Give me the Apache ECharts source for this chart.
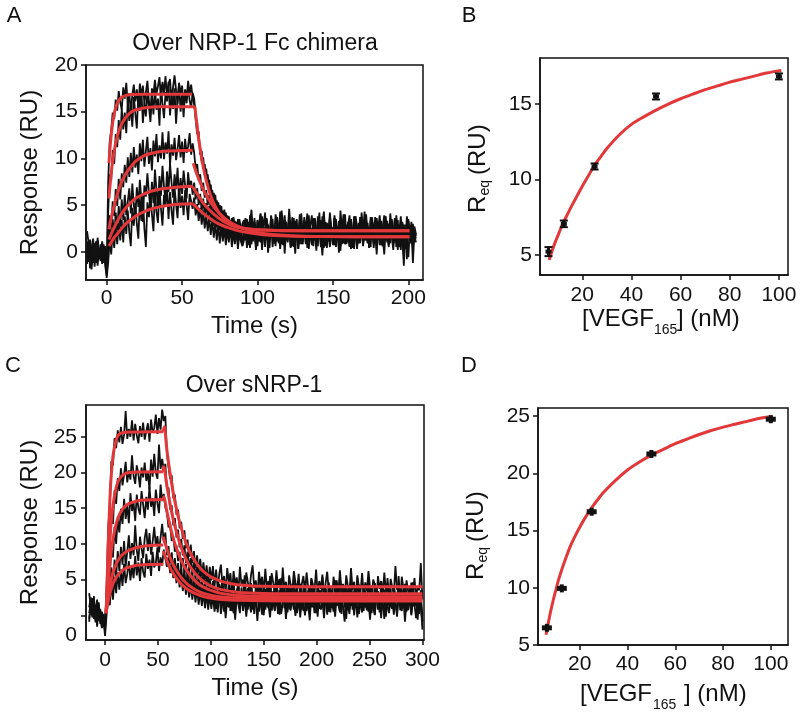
<!DOCTYPE html>
<html><head><meta charset="utf-8">
<script src="https://cdn.jsdelivr.net/npm/echarts@6/dist/echarts.min.js"></script>
<style>html,body{margin:0;padding:0;background:#fff}#c{width:800px;height:714px}</style>
</head><body><div id="c"></div>
<script>
const FONT = "'Liberation Sans', Arial, Helvetica, sans-serif";
const BLACK = '#111111', RED = '#e2383a';

// ---------- Panel A : sensorgrams over NRP-1 Fc chimera (t = -13..205 s, 1 s step) ----------
const tStartA = -13, tStepA = 1;
const blackA1 = [2.2,1.0,-0.5,0.6,-1.2,0.3,1.1,0.4,-0.8,0.2,-0.4,0.6,-1.5,-2.6,
7.5,11.8,13.0,14.9,14.2,16.3,15.1,17.2,16.0,15.2,17.6,16.4,18.1,15.8,17.0,14.9,16.8,17.9,16.1,17.4,15.5,18.0,16.6,17.8,15.9,17.1,18.3,16.2,14.6,17.5,16.8,18.4,16.9,17.7,18.7,16.4,18.2,17.0,18.8,16.6,17.9,18.5,16.2,17.6,18.9,17.3,15.8,18.1,16.9,17.8,15.6,17.4,16.3,18.3,16.8,17.9,16.5,
15.8,14.2,12.6,12.9,10.4,10.8,8.9,9.4,7.6,8.3,6.5,7.2,5.6,6.3,4.6,5.5,4.1,5.0,3.5,4.4,3.1,4.2,2.6,3.8,2.4,3.6,2.0,3.3,1.8,3.5,2.2,1.4,3.0,
3.4,1.2,2.8,0.9,3.9,2.0,1.1,3.2,2.5,0.6,2.9,4.1,1.8,2.6,0.8,3.5,2.2,1.4,3.8,2.7,0.9,2.3,3.6,1.5,4.3,2.0,0.7,3.1,2.4,1.2,3.7,1.9,2.8,0.5,3.3,2.6,1.0,4.0,2.1,1.6,3.4,0.8,2.7,3.9,1.3,2.5,0.6,3.6,2.2,1.8,4.2,1.1,2.9,0.4,3.2,2.4,1.5,3.8,1.9,2.6,0.7,3.5,2.0,1.2,4.4,2.3,0.9,3.0,1.7,2.8,3.9,1.0,2.5,0.3,3.4,2.1,1.4,3.7,2.6,0.8,2.9,4.0,1.6,2.3,0.5,3.3,2.7,1.1,3.6,2.0,1.3,3.1,0.6,2.8,3.8,1.5,2.2,0.9,3.5,2.4,1.0,3.9,1.8,2.6,0.2,3.0,1.4,2.5,-0.8,3.2,1.6,2.9,0.4,2.2,1.7];
const blackA2 = [0.4,-1.1,1.3,-0.2,0.9,-1.6,0.5,1.2,-0.7,0.8,-1.3,0.2,-0.9,-2.1,
4.2,8.3,7.6,10.9,9.4,12.6,11.2,14.1,12.0,15.3,13.1,14.9,12.7,16.2,14.0,15.7,13.4,16.6,14.8,13.2,16.9,15.1,17.4,13.8,16.0,14.5,17.2,15.6,13.9,16.8,14.7,17.6,15.2,16.4,13.5,17.9,15.8,14.3,17.1,16.1,18.2,14.6,16.7,15.3,17.5,13.7,16.3,18.0,15.0,16.9,14.4,17.3,15.9,17.8,16.2,15.4,17.0,
16.4,14.6,13.8,11.9,11.2,9.6,10.1,8.2,8.9,7.1,7.7,6.0,6.6,5.2,6.1,4.4,5.3,3.8,4.9,3.3,4.5,2.8,3.9,2.5,3.4,1.9,3.7,2.2,3.0,1.5,3.3,2.6,1.2,
1.8,3.6,2.4,0.7,3.1,4.5,1.9,2.8,0.6,3.4,2.1,1.0,3.8,2.5,4.2,1.3,2.9,0.4,3.5,2.2,1.6,4.0,2.7,1.1,3.3,0.8,2.6,3.9,1.5,2.0,4.6,2.3,0.9,3.6,1.8,2.8,0.3,3.2,2.4,1.2,3.7,2.0,4.1,1.4,2.6,0.7,3.4,2.9,1.0,3.8,2.2,0.5,3.0,4.3,1.6,2.5,1.1,3.6,2.0,0.8,3.9,2.7,1.3,3.3,0.6,2.4,4.0,1.7,2.9,1.0,3.5,2.1,0.4,3.8,2.6,1.5,3.1,0.9,4.2,2.3,1.2,3.4,2.0,0.7,3.7,2.8,1.4,3.0,0.2,2.5,3.9,1.6,2.7,1.1,3.3,2.0,0.8,4.1,2.4,1.3,3.6,0.5,2.9,2.2,3.8,1.0,-0.4,2.6,1.8,3.3,0.9,2.7,-1.2,2.1,1.4];
const blackA3 = [-0.6,0.9,-1.8,0.3,1.4,-0.5,-1.2,0.7,0.1,-1.0,1.1,-0.3,0.6,-0.9,
0.8,3.9,2.6,5.4,3.8,6.7,4.9,7.8,5.6,8.4,6.9,9.3,7.4,10.1,8.0,10.6,8.5,11.2,9.0,10.4,8.3,11.6,9.7,12.0,9.1,10.8,12.3,9.4,11.1,8.7,11.9,10.2,12.6,9.6,11.4,10.0,12.8,9.9,11.7,10.5,12.9,9.3,11.5,10.3,12.2,9.8,11.0,12.5,10.1,11.8,9.5,12.1,10.6,11.3,12.7,10.4,11.6,
10.6,8.9,9.4,7.6,8.3,6.5,7.4,5.8,6.6,5.0,6.1,4.4,5.5,4.0,5.1,3.5,4.6,3.1,4.3,2.7,3.8,2.3,3.6,2.0,3.3,1.6,2.9,1.3,2.7,0.9,2.5,1.4,0.7,
0.9,2.8,1.3,3.2,0.4,2.1,1.7,3.6,0.8,2.4,1.1,3.0,0.2,2.6,1.5,3.4,0.7,1.9,2.9,0.5,2.3,1.2,3.7,0.9,2.0,1.6,3.1,-0.2,2.5,1.0,3.3,1.8,0.6,2.7,1.4,3.5,0.3,2.2,1.7,0.8,2.9,1.3,3.8,0.6,2.0,1.1,3.2,1.9,0.1,2.6,1.5,3.4,0.9,2.3,1.8,0.4,3.0,1.2,2.5,0.7,3.6,1.6,2.1,-0.1,2.8,1.4,3.3,0.8,1.9,2.7,0.5,2.4,1.1,3.5,1.7,0.3,2.9,1.3,2.2,0.6,3.1,1.8,0.9,2.6,1.5,3.7,0.4,2.0,1.2,2.8,0.7,3.3,1.6,-0.3,2.5,1.0,3.0,1.4,2.3,0.8,3.4,1.9,0.2,2.7,1.1,3.2,0.6,2.1,1.5,-0.6,2.4,0.9,3.0,1.2,2.0];
const blackA4 = [1.1,-0.4,0.5,-1.4,0.2,0.9,-0.8,1.5,-0.2,0.4,-1.1,0.8,-0.5,-1.4,
-0.6,2.8,0.9,3.5,1.6,4.2,2.3,4.9,2.7,5.6,3.4,6.1,3.9,5.4,6.8,4.1,7.3,5.0,3.6,6.9,4.8,7.7,5.5,3.2,7.1,5.9,8.4,6.3,4.5,7.5,5.2,8.8,6.6,4.9,8.1,6.0,9.2,7.0,5.4,8.6,6.4,9.5,7.4,5.8,8.3,6.7,9.0,5.6,7.9,6.2,8.7,7.1,5.7,8.5,6.9,7.6,6.1,
7.4,5.6,6.8,5.0,6.2,4.3,5.7,3.9,5.2,3.6,4.9,3.2,4.6,2.8,4.3,2.6,4.0,2.3,3.8,2.0,3.5,1.8,3.4,1.6,3.1,1.9,3.6,1.4,3.2,2.0,3.5,1.2,2.9,
2.6,1.3,3.5,2.0,0.9,3.8,1.6,2.9,0.7,3.3,2.2,4.0,1.4,2.7,0.5,3.6,2.4,1.1,3.9,1.8,2.8,0.6,3.4,2.1,1.5,4.4,2.5,0.9,3.2,1.7,2.9,0.4,3.7,2.3,1.2,3.0,2.6,0.8,4.1,1.9,2.4,1.0,3.5,0.3,2.8,3.9,1.6,2.2,0.7,3.4,2.0,1.3,3.8,2.5,0.6,3.1,1.8,4.2,2.3,1.1,3.6,0.5,2.7,1.9,3.3,0.8,2.4,4.0,1.4,2.9,0.6,3.5,2.1,1.2,3.8,2.6,0.9,3.0,1.7,2.3,4.3,1.5,2.8,0.4,3.4,2.0,1.0,3.7,2.5,1.3,3.1,0.7,2.6,3.9,1.6,2.2,0.5,3.3,1.9,2.8,1.2,3.6,2.4,0.8,3.0,1.7,2.9,0.3,3.8,2.1,1.4,3.2,0.6,2.7,1.9];
const blackA5 = [-1.3,0.6,-0.2,-1.9,0.7,-0.6,1.0,-1.5,0.3,-0.4,0.9,-1.2,0.4,-2.8,
-1.2,1.6,-0.3,2.2,0.4,2.6,0.8,3.1,1.2,3.4,1.0,3.8,1.9,4.4,2.1,0.6,4.7,2.8,5.2,3.0,1.4,5.6,3.3,6.0,2.5,0.5,5.3,3.7,6.3,4.0,2.2,6.5,4.3,3.1,6.7,4.6,2.8,6.1,4.9,7.0,3.5,6.4,4.4,2.9,6.9,5.1,3.6,7.2,4.7,6.0,3.9,6.6,5.0,3.4,6.2,5.4,4.6,
5.8,3.9,5.1,3.3,4.7,2.9,4.4,2.5,4.0,2.2,3.7,1.8,3.4,1.5,3.1,1.2,2.9,0.9,2.8,1.1,2.6,0.7,2.4,1.0,2.7,0.5,2.2,0.8,2.5,0.3,2.0,1.1,0.6,
1.2,2.6,0.4,2.9,1.5,0.8,3.1,1.9,0.2,2.4,1.7,3.3,0.6,2.0,1.3,2.8,-0.1,2.2,1.6,3.5,0.9,2.5,1.1,3.0,0.3,1.8,2.7,0.7,3.2,1.4,2.1,0.5,2.9,1.7,-0.2,2.6,1.3,3.4,0.8,2.0,1.5,3.1,0.4,2.3,1.9,0.9,3.6,1.2,2.4,0.6,2.8,1.6,-0.4,2.1,1.0,3.0,1.8,0.5,2.7,1.4,3.3,0.7,2.2,1.5,0.1,2.9,1.1,2.5,0.8,3.2,1.7,0.3,2.6,1.3,3.5,0.6,2.0,1.6,2.8,0.9,2.3,1.2,3.1,0.4,1.9,2.7,0.8,2.4,-0.3,3.0,1.5,2.1,0.6,2.8,1.2,3.3,0.7,2.0,1.6,0.2,2.5,1.0,3.4,0.5,2.2,1.4,-1.5,2.9,0.8,3.5,1.1,2.3,0.4,1.8,1.0];

// fitted curves, panel A ([time, response])
const fitA_a1 = [[1.5,9.5],[2.5,11.6],[3.5,13.2],[5,14.8],[6.5,15.7],[8,16.2],[10,16.55],[13,16.75],[17,16.84],[25,16.87],[56.4,16.87]];
const fitA_a2 = [[1.5,5.7],[2.5,7.6],[3.5,9.1],[5,10.8],[6.5,12.0],[8,12.9],[10,13.7],[12.5,14.35],[15,14.8],[18,15.1],[22,15.3],[27,15.45],[35,15.52],[58.5,15.54]];
const fitA_d1 = [[58.5,15.54],[59.5,14.04],[60.5,12.7],[62,10.94],[63.5,9.54],[65,8.33],[67,7.03],[69,6.0],[71.5,5.04],[74,4.31],[77,3.69],[80,3.25],[85,2.8],[90,2.55],[100,2.34],[110,2.28],[125,2.25],[200.7,2.25]];
const fitA_a3 = [[1.5,2.4],[3,3.6],[5,5.0],[7.5,6.4],[10,7.5],[12.5,8.3],[15,8.9],[17.5,9.4],[20,9.8],[25,10.3],[30,10.55],[35,10.7],[40,10.78],[57,10.87]];
const fitA_d2 = [[57.4,9.47],[59,8.68],[61,7.8],[64,6.68],[67,5.77],[71,4.8],[75,4.06],[80,3.37],[86,2.8],[93,2.35],[100,2.07],[110,1.84],[125,1.69],[150,1.62],[200.7,1.6]];
const fitA_a4 = [[1.5,1.3],[3,1.9],[5,2.6],[7.5,3.4],[10,4.1],[12.5,4.65],[15,5.1],[17.5,5.5],[20,5.8],[25,6.2],[30,6.5],[35,6.7],[40,6.8],[50,6.95],[57,7.0]];
const fitA_d3 = [[57,6.95],[60,6.2],[64,5.2],[68,4.5],[73,3.75],[78,3.2],[83,2.8],[90,2.5],[100,2.35],[115,2.28],[140,2.25],[200.7,2.25]];
const fitA_a5 = [[1.5,0.6],[3,1.0],[5,1.5],[7.5,2.0],[10,2.5],[12.5,2.95],[15,3.3],[17.5,3.6],[20,3.9],[25,4.3],[30,4.6],[35,4.8],[40,4.95],[50,5.1],[57,5.15]];
const fitA_d4 = [[57,5.15],[60,4.7],[64,4.1],[69,3.5],[74,3.0],[80,2.6],[85,2.35],[90,2.15],[100,1.9],[115,1.7],[140,1.62],[200.7,1.6]];

// ---------- Panel B : steady-state response ----------
const bConc = [6.25, 12.5, 25, 50, 100];
const bReq  = [5.22, 7.06, 10.86, 15.5, 16.83];
const bErr  = [0.3, 0.22, 0.2, 0.2, 0.2];
const bFit  = [[6.5,4.67],[8,5.4],[9,5.85],[10,6.25],[11,6.65],[12.5,7.2],[14,7.7],[16,8.35],[18,8.95],[20,9.55],[22.5,10.25],[25,10.95],[27.5,11.5],[30,12.05],[35,12.95],[40,13.65],[45,14.15],[50,14.6],[55,15.0],[60,15.35],[65,15.65],[70,15.95],[75,16.2],[80,16.45],[85,16.65],[90,16.85],[95,17.05],[101,17.23]];

// ---------- Panel C : sensorgrams over sNRP-1 (t = -15..300 s, 1.5 s step) ----------
const tStartC = -15, tStepC = 1.5;
const blackC1 = [3.1,1.2,-0.3,1.9,0.5,2.2,-0.8,0.9,-1.5,0.2,-2.4,
4.1,12.3,15.2,21.6,21.0,24.8,23.4,25.9,24.2,26.4,24.0,25.3,28.6,24.7,26.1,25.0,27.3,24.5,26.8,25.2,24.1,26.5,25.0,27.0,24.6,25.8,26.9,24.3,27.4,25.6,26.2,28.1,25.4,27.6,26.0,28.8,27.2,
27.9,22.6,22.4,19.1,19.6,16.4,16.9,14.1,14.8,12.2,13.1,10.7,11.9,9.4,10.6,8.2,9.9,7.3,9.0,6.6,8.4,6.0,7.9,5.5,7.4,5.1,7.0,4.6,6.8,4.9,
6.9,4.0,6.4,3.6,5.8,7.1,4.2,5.5,3.1,6.6,4.7,5.9,2.9,6.2,4.4,5.3,3.0,6.8,4.1,5.0,2.7,6.0,4.6,3.3,5.7,7.0,3.8,4.9,2.5,6.1,4.3,5.4,3.1,6.5,3.7,4.8,2.4,5.9,4.5,3.2,6.3,4.0,5.1,2.8,6.7,3.6,4.7,2.2,5.6,4.2,3.0,6.2,4.6,3.4,5.8,2.6,4.4,5.5,3.1,6.0,3.9,2.3,5.2,4.3,3.5,6.4,2.9,4.8,3.7,5.7,2.5,4.5,6.1,3.3,4.0,2.1,5.4,3.8,4.9,2.7,6.3,3.6,4.4,2.4,5.6,4.1,3.0,6.6,3.5,4.7,2.2,5.3,4.0,3.2,5.9,2.8,4.6,3.4,6.2,3.9,2.6,5.0,4.3,1.9,5.5,3.7,4.8,2.9,6.0,3.3,4.5,2.3,5.1,3.9,3.0,6.9,3.6,4.2,2.0,5.4,3.8,2.7,4.9,3.4,1.6,4.6,3.1,5.2,2.4,4.0,3.5,7.3,2.2];
const blackC2 = [0.3,1.6,2.4,-0.5,1.3,0.6,1.8,-1.2,0.4,-0.9,-0.6,
2.8,8.2,9.6,14.4,12.8,17.5,15.6,19.2,17.4,20.6,18.2,19.7,21.5,18.6,20.3,19.0,22.4,19.5,18.4,21.0,19.8,17.9,20.7,19.3,21.4,18.8,20.1,17.6,21.8,19.4,22.6,20.0,19.1,23.9,20.5,21.9,20.4,
21.2,17.6,17.9,14.8,15.4,12.6,13.6,10.9,12.0,9.5,10.7,8.4,9.8,7.3,8.9,6.6,8.0,5.8,7.4,5.3,6.8,4.6,6.3,4.2,5.9,3.8,5.5,3.4,5.1,3.1,
4.8,2.6,3.9,1.5,4.4,2.9,5.3,2.0,3.6,1.2,4.7,3.1,2.2,5.0,1.8,3.5,4.2,1.0,3.3,2.5,5.6,2.1,3.8,1.4,4.5,2.8,0.9,4.0,3.2,1.7,5.1,2.4,3.7,1.1,4.3,2.7,5.5,1.9,3.4,0.8,4.6,3.0,2.1,5.2,1.6,3.9,2.6,0.7,4.1,3.3,1.5,5.7,2.3,3.6,1.2,4.4,2.9,0.6,4.8,2.0,3.5,1.4,5.0,2.7,3.9,0.9,4.2,3.1,1.8,5.4,2.5,3.7,1.0,4.6,2.2,3.3,0.5,4.9,2.8,1.6,5.3,2.4,3.8,1.1,4.0,3.0,0.8,4.7,2.1,3.5,1.3,5.6,2.6,3.2,0.6,4.3,2.9,1.7,5.0,2.3,3.9,1.0,4.5,2.7,3.4,0.4,4.8,2.0,3.6,1.5,5.2,2.5,3.1,0.9,4.1,2.8,1.9,5.5,2.2,3.7,1.2,4.4,3.0,0.7,3.8,2.4,4.6,1.4,3.3,2.6,0.2,3.5,-0.8];
const blackC3 = [-0.9,2.3,0.7,-0.4,1.4,-1.6,0.9,0.1,-1.1,-0.3,-1.9,
1.1,6.0,5.3,10.2,8.1,12.4,10.0,13.7,11.6,14.9,12.8,16.3,13.5,15.4,12.9,17.1,14.6,15.8,13.2,16.9,15.0,14.1,17.4,15.5,13.6,16.6,14.8,18.0,15.2,16.4,13.9,17.6,15.7,14.3,18.3,16.0,17.0,
15.1,14.4,12.3,12.8,10.4,11.1,8.9,9.8,7.6,8.9,6.7,8.0,5.9,7.2,5.2,6.6,4.5,6.1,4.0,5.6,3.6,5.2,3.3,4.8,2.9,4.5,2.6,4.2,2.4,3.9,
1.6,3.4,0.9,2.7,4.1,1.3,3.0,0.5,3.6,2.0,1.1,3.8,2.4,0.3,3.2,1.7,4.3,1.0,2.6,0.6,3.5,2.2,0.8,3.9,1.5,2.9,0.2,3.3,1.9,4.0,1.2,2.5,0.4,3.7,2.1,1.0,3.1,0.7,2.8,4.2,1.4,2.3,0.1,3.4,1.8,2.9,0.6,3.6,2.0,1.1,4.4,1.6,2.7,0.3,3.3,1.9,0.8,3.8,2.4,1.3,3.0,0.5,2.6,4.1,1.0,2.2,-0.2,3.5,1.7,2.8,0.9,3.9,1.4,2.5,0.4,3.2,2.0,1.1,4.0,1.6,2.7,0.2,3.4,1.8,2.9,0.7,3.7,1.3,2.3,0.0,3.1,1.9,4.3,1.2,2.6,0.6,3.5,2.1,1.0,3.0,0.3,2.8,1.5,3.9,0.8,2.4,-0.4,3.3,1.7,2.6,0.9,3.6,1.1,2.2,0.1,3.0,1.8,4.1,0.7,2.5,1.4,3.4,0.5,2.9,1.9,0.2,3.7,1.3,2.4,0.8,3.1,1.0,-1.0];
const blackC4 = [1.1,2.5,0.4,1.5,-0.7,0.8,1.6,-0.9,0.5,-1.4,-1.0,
1.6,4.4,3.1,6.7,4.2,7.8,5.4,9.0,6.2,9.6,7.1,10.4,6.8,8.9,11.2,7.9,10.1,8.4,12.6,9.1,7.6,11.0,9.4,8.0,10.8,12.1,9.0,11.5,8.5,10.3,12.4,9.7,11.1,8.8,10.9,12.8,10.2,
11.6,8.4,9.7,7.3,8.8,6.4,8.0,5.7,7.3,5.0,6.8,4.5,6.3,4.0,5.9,3.6,5.5,3.2,5.2,2.9,4.9,2.6,4.6,2.5,4.3,2.2,4.0,1.9,3.8,2.0,
3.6,1.2,2.8,0.4,3.3,1.7,4.0,0.9,2.5,1.4,3.8,0.6,2.9,1.9,0.2,3.4,2.2,1.0,3.9,1.5,2.6,0.3,3.1,1.8,4.2,0.8,2.4,1.3,3.5,0.5,2.7,1.6,0.0,3.2,2.0,1.1,3.7,0.7,2.3,1.4,3.0,0.2,2.8,1.9,4.1,1.0,2.5,0.4,3.4,1.7,2.1,0.8,3.6,1.3,2.9,-0.3,2.6,1.5,3.3,0.6,2.0,3.9,1.1,2.7,0.3,3.1,1.8,0.9,3.5,2.2,1.2,2.8,0.1,3.4,1.6,2.4,0.7,3.8,1.3,2.0,0.4,3.2,1.9,2.6,-0.5,2.9,1.4,3.6,0.8,2.3,1.0,3.0,0.2,2.5,1.7,4.0,1.1,2.1,0.5,3.3,1.8,2.7,0.0,3.5,1.5,2.2,0.6,3.1,1.9,-0.2,2.8,1.3,3.7,0.9,2.4,1.6,0.3,3.2,2.0,1.0,3.4,0.7,2.6,1.5,3.9,0.4,2.3,1.2,2.9,-0.6,2.5,1.8,0.1];
const blackC5 = [-0.5,1.2,0.0,2.7,-1.0,0.4,1.1,-0.2,-1.8,-0.6,-2.9,
0.2,3.0,1.4,4.6,2.2,5.3,3.1,6.0,3.6,6.4,4.1,7.2,4.5,5.8,7.6,4.9,6.9,5.2,8.3,5.6,7.4,4.8,8.0,6.1,5.3,8.6,6.5,7.8,5.5,8.9,6.7,7.3,9.5,6.2,8.1,7.0,9.2,
9.3,6.8,8.2,5.9,7.4,5.2,6.6,4.5,6.1,3.9,5.6,3.4,5.1,2.9,4.7,2.5,4.3,2.2,4.0,1.8,3.7,1.5,3.5,1.3,3.3,1.0,3.1,0.8,2.9,0.9,
2.9,0.5,2.2,1.1,3.4,0.2,1.8,2.7,-0.4,2.4,1.3,3.1,0.6,2.0,-0.6,2.8,1.5,0.3,3.3,1.0,2.3,-0.2,2.6,1.7,0.4,3.0,1.2,2.1,-0.8,2.5,1.6,0.1,3.2,0.8,2.2,1.4,-0.3,2.9,1.9,0.6,2.4,1.0,3.5,0.2,1.7,2.6,-0.5,2.3,1.2,0.7,3.0,1.8,-0.1,2.7,1.3,0.4,3.1,1.9,0.0,2.2,1.5,-0.7,2.8,1.1,2.4,0.3,3.4,1.6,0.8,2.0,-0.4,2.6,1.4,0.5,3.2,1.0,2.1,-0.2,2.9,1.7,0.6,2.4,1.2,-0.9,2.7,1.5,0.2,3.0,1.8,0.9,2.3,-0.3,2.5,1.3,0.4,3.3,1.9,0.7,2.1,-0.6,2.8,1.0,0.1,2.6,1.6,3.1,0.5,2.0,-0.5,2.4,1.2,0.3,3.0,1.7,0.8,2.2,-0.2,2.7,1.4,0.6,2.5,-0.9,1.9,1.1,2.8,0.0,2.3,1.5,-0.4,2.0,0.9,1.7,-2.0];

// fitted curves, panel C
const fitC_a1 = [[1,0.3],[2,5],[3,10],[4,14],[5,17.5],[6,19.8],[7,21.6],[8,22.8],[10,24.3],[12,25.1],[15,25.5],[20,25.65],[55,25.7]];
const fitC_d1 = [[55,25.7],[56,26.4],[58,23.8],[60,21.4],[62.5,18.9],[65,16.7],[67.5,14.9],[70,13.3],[72.5,12.0],[75,10.8],[77.5,9.8],[80,8.9],[85,7.6],[90,6.6],[95,5.9],[100,5.4],[110,4.75],[125,4.29],[150,4.06],[200,4.0],[300,4.0]];
const fitC_a2 = [[1,0.3],[2,3.5],[3,6.5],[4,9.3],[5,11.5],[6,13.3],[7,14.7],[8,15.9],[10,17.5],[12,18.6],[15,19.4],[20,19.9],[30,20.05],[55,20.1]];
const fitC_d2 = [[55,20.1],[55.5,20.8],[58,18.6],[60,16.8],[62.5,14.8],[65,13.1],[67.5,11.7],[70,10.4],[72.5,9.3],[75,8.4],[77.5,7.6],[80,6.9],[85,5.9],[90,5.1],[95,4.55],[100,4.1],[110,3.59],[125,3.23],[150,3.05],[200,3.0],[300,3.0]];
const fitC_a3 = [[1,0.3],[2,2.5],[3,4.5],[4,6.3],[5,7.8],[6,9.1],[7,10.2],[8,11.1],[10,12.5],[12,13.5],[15,14.5],[20,15.4],[30,16.0],[40,16.15],[55,16.2]];
const fitC_d3 = [[55,16.2],[55.5,16.6],[58,14.9],[60,13.5],[62.5,11.9],[65,10.5],[67.5,9.4],[70,8.4],[72.5,7.5],[75,6.8],[77.5,6.2],[80,5.7],[85,4.85],[90,4.2],[95,3.8],[100,3.5],[110,3.07],[125,2.78],[150,2.64],[200,2.6],[300,2.6]];
const fitC_a4 = [[1,0.3],[2,1.5],[3,2.6],[4,3.6],[5,4.4],[6,5.1],[7,5.7],[8,6.2],[10,7.0],[12,7.6],[15,8.3],[20,8.9],[30,9.5],[40,9.75],[55,9.86]];
const fitC_d4 = [[55,11.0],[57,9.97],[60,8.65],[62.5,7.72],[65,6.94],[67.5,6.26],[70,5.68],[72.5,5.19],[75,4.77],[77.5,4.41],[80,4.1],[85,3.61],[90,3.26],[95,3.0],[100,2.81],[110,2.57],[125,2.4],[150,2.32],[200,2.3],[300,2.3]];
const fitC_a5 = [[1,0.3],[2,1.2],[3,2.0],[4,2.7],[5,3.3],[6,3.8],[7,4.2],[8,4.6],[10,5.2],[12,5.6],[15,6.1],[20,6.6],[30,7.0],[40,7.1],[55,7.15]];
const fitC_d5 = [[55,9.0],[57,8.17],[60,7.11],[62.5,6.36],[65,5.73],[67.5,5.19],[70,4.72],[72.5,4.32],[75,3.99],[77.5,3.69],[80,3.45],[85,3.06],[90,2.77],[95,2.56],[100,2.41],[110,2.22],[125,2.09],[150,2.02],[200,2.0],[300,2.0]];

// ---------- Panel D : steady-state response ----------
const dConc = [6.25, 12.5, 25, 50, 100];
const dReq  = [6.5, 9.95, 16.65, 21.7, 24.74];
const dErr  = [0.15, 0.15, 0.15, 0.15, 0.15];
const dFit  = [[5.9,5.9],[7,7.1],[8,8.1],[9,9.0],[10,9.8],[11,10.6],[12.5,11.6],[14,12.5],[16,13.6],[18,14.5],[20,15.3],[22.5,16.2],[25,17.0],[27.5,17.7],[30,18.35],[35,19.4],[40,20.3],[45,21.0],[50,21.6],[55,22.1],[60,22.6],[65,23.0],[70,23.4],[75,23.75],[80,24.05],[85,24.3],[90,24.55],[95,24.8],[100.7,25.0]];

// tick values
const ticksAx = [0,50,100,150,200], ticksAy = [0,5,10,15,20];
const ticksBx = [20,40,60,80,100], ticksBy = [5,10,15];
const ticksCx = [0,50,100,150,200,250,300], ticksCy = [0,5,10,15,20,25];
const ticksDx = [20,40,60,80,100], ticksDy = [5,10,15,20,25];

// ---------- build ----------
function onGrid(t0, dt, vals) { return vals.map((v, i) => [t0 + dt * i, v]); }

function mkAxis(gi, min, max, ticks, margin, name, nameGap, extraLabel) {
  return {
    type: 'value', gridIndex: gi, min: min, max: max,
    splitLine: { show: false },
    axisLine: { show: true, onZero: false, lineStyle: { color: BLACK, width: 1.5 } },
    axisTick: { show: true, length: 5, customValues: ticks, lineStyle: { color: BLACK, width: 1.5 } },
    axisLabel: Object.assign({ show: true, customValues: ticks, margin: margin, color: BLACK, fontSize: 21, fontFamily: FONT }, extraLabel || {}),
    name: name || '', nameLocation: 'middle', nameGap: nameGap || 0,
    nameTextStyle: { color: BLACK, fontSize: 24, fontFamily: FONT }
  };
}

function blackLine(xi, data) {
  return { type: 'line', xAxisIndex: xi, yAxisIndex: xi, data: data, showSymbol: false, symbol: 'none',
           lineStyle: { color: BLACK, width: 1.8 }, z: 2, silent: true, animation: false };
}
function redLine(xi, data, sm) {
  return { type: 'line', xAxisIndex: xi, yAxisIndex: xi, data: data, showSymbol: false, symbol: 'none', smooth: sm || 0.4,
           lineStyle: { color: RED, width: 3 }, z: 4, silent: true, animation: false };
}

function renderB(params, api) {
  const x = api.value(0), y = api.value(1), e = api.value(2);
  const c = api.coord([x, y]), t = api.coord([x, y + e]), b = api.coord([x, y - e]);
  const hw = 4;
  return { type: 'group', children: [
    { type: 'line', shape: { x1: c[0], y1: t[1], x2: c[0], y2: b[1] }, style: { stroke: BLACK, lineWidth: 3 } },
    { type: 'line', shape: { x1: c[0] - hw, y1: t[1], x2: c[0] + hw, y2: t[1] }, style: { stroke: BLACK, lineWidth: 2 } },
    { type: 'line', shape: { x1: c[0] - hw, y1: b[1], x2: c[0] + hw, y2: b[1] }, style: { stroke: BLACK, lineWidth: 2 } },
    { type: 'rect', shape: { x: c[0] - 3, y: c[1] - 2, width: 6, height: 4 }, style: { fill: BLACK } }
  ]};
}
function renderD(params, api) {
  const x = api.value(0), y = api.value(1), e = api.value(2);
  const c = api.coord([x, y]), t = api.coord([x, y + e]), b = api.coord([x, y - e]);
  return { type: 'group', children: [
    { type: 'rect', shape: { x: c[0] - 5, y: c[1] - 2.5, width: 10, height: 5 }, style: { fill: BLACK } },
    { type: 'rect', shape: { x: c[0] - 2, y: Math.min(t[1], c[1] - 4), width: 4, height: Math.max(b[1] - t[1], 8) }, style: { fill: BLACK } }
  ]};
}

function txt(x, y, s, size, align) {
  return { type: 'text', x: x, y: y, silent: true,
    style: { text: s, fontSize: size, fontFamily: FONT, fill: BLACK, align: align || 'center', verticalAlign: 'middle' } };
}
function reqLabel(x, y) {
  return { type: 'group', x: x, y: y, rotation: Math.PI / 2, silent: true, children: [
    txt(0, 0, 'R', 24, 'left'),
    txt(17.5, 7, 'eq', 14, 'left'),
    txt(38, 0, '(RU)', 24, 'left')
  ]};
}

const series = [];
[blackA1, blackA2, blackA3, blackA4, blackA5].forEach(a => series.push(blackLine(0, onGrid(tStartA, tStepA, a))));
[fitA_a1, fitA_a2, fitA_d1, fitA_a3, fitA_d2, fitA_a4, fitA_d3, fitA_a5, fitA_d4].forEach(f => series.push(redLine(0, f)));
series.push(redLine(1, bFit, 0.3));
series.push({ type: 'custom', xAxisIndex: 1, yAxisIndex: 1, renderItem: renderB, z: 6,
  data: bConc.map((c, i) => [c, bReq[i], bErr[i]]), silent: true, animation: false });
[blackC1, blackC2, blackC3, blackC4, blackC5].forEach(a => series.push(blackLine(2, onGrid(tStartC, tStepC, a))));
[fitC_a1, fitC_d1, fitC_a2, fitC_d2, fitC_a3, fitC_d3, fitC_a4, fitC_d4, fitC_a5, fitC_d5].forEach(f => series.push(redLine(2, f)));
series.push(redLine(3, dFit, 0.3));
series.push({ type: 'custom', xAxisIndex: 3, yAxisIndex: 3, renderItem: renderD, z: 6,
  data: dConc.map((c, i) => [c, dReq[i], dErr[i]]), silent: true, animation: false });

const gridStyle = { show: true, borderColor: BLACK, borderWidth: 1.5, backgroundColor: 'transparent', containLabel: false };
const option = {
  animation: false,
  backgroundColor: '#ffffff',
  grid: [
    Object.assign({ left: 86, top: 65, width: 337, height: 215 }, gridStyle),
    Object.assign({ left: 540, top: 58, width: 248, height: 217 }, gridStyle),
    Object.assign({ left: 86, top: 405, width: 338, height: 235 }, gridStyle),
    Object.assign({ left: 538, top: 408, width: 250, height: 237 }, gridStyle)
  ],
  xAxis: [
    mkAxis(0, -13.7, 209.7, ticksAx, 8, 'Time (s)', 34),
    mkAxis(1, 2.8, 103.7, ticksBx, 10),
    mkAxis(2, -18, 301.5, ticksCx, 10, 'Time (s)', 36),
    mkAxis(3, 2.53, 107.2, ticksDx, 9)
  ],
  yAxis: [
    mkAxis(0, -3.03, 20, ticksAy, 8, 'Response (RU)', 44),
    mkAxis(1, 3.67, 18.05, ticksBy, 8),
    mkAxis(2, -3.46, 29.45, ticksCy, 9, 'Response (RU)', 44, {
      formatter: v => (v === 0 ? '{low|0}' : String(v)),
      rich: { low: { padding: [40, 0, 0, 0], fontSize: 21, fontFamily: FONT, color: BLACK } }
    }),
    mkAxis(3, 5, 25.72, ticksDy, 8)
  ],
  series: series,
  graphic: [
    txt(14, 16, 'A', 22), txt(469, 16, 'B', 22), txt(13, 366, 'C', 22), txt(469, 366, 'D', 22),
    txt(255, 44, 'Over NRP-1 Fc chimera', 23),
    txt(254, 386, 'Over sNRP-1', 23),
    txt(582, 319, '[VEGF', 24, 'left'), txt(654, 330, '165', 14, 'left'), txt(677, 319, '] (nM)', 24, 'left'),
    txt(580, 694, '[VEGF', 24, 'left'), txt(653, 705, '165', 14, 'left'), txt(684, 694, '] (nM)', 24, 'left'),
    reqLabel(478, 213),
    reqLabel(476, 580)
  ]
};
const chart = echarts.init(document.getElementById('c'), null, { renderer: 'canvas' });
chart.setOption(option);
</script>
</body></html>
